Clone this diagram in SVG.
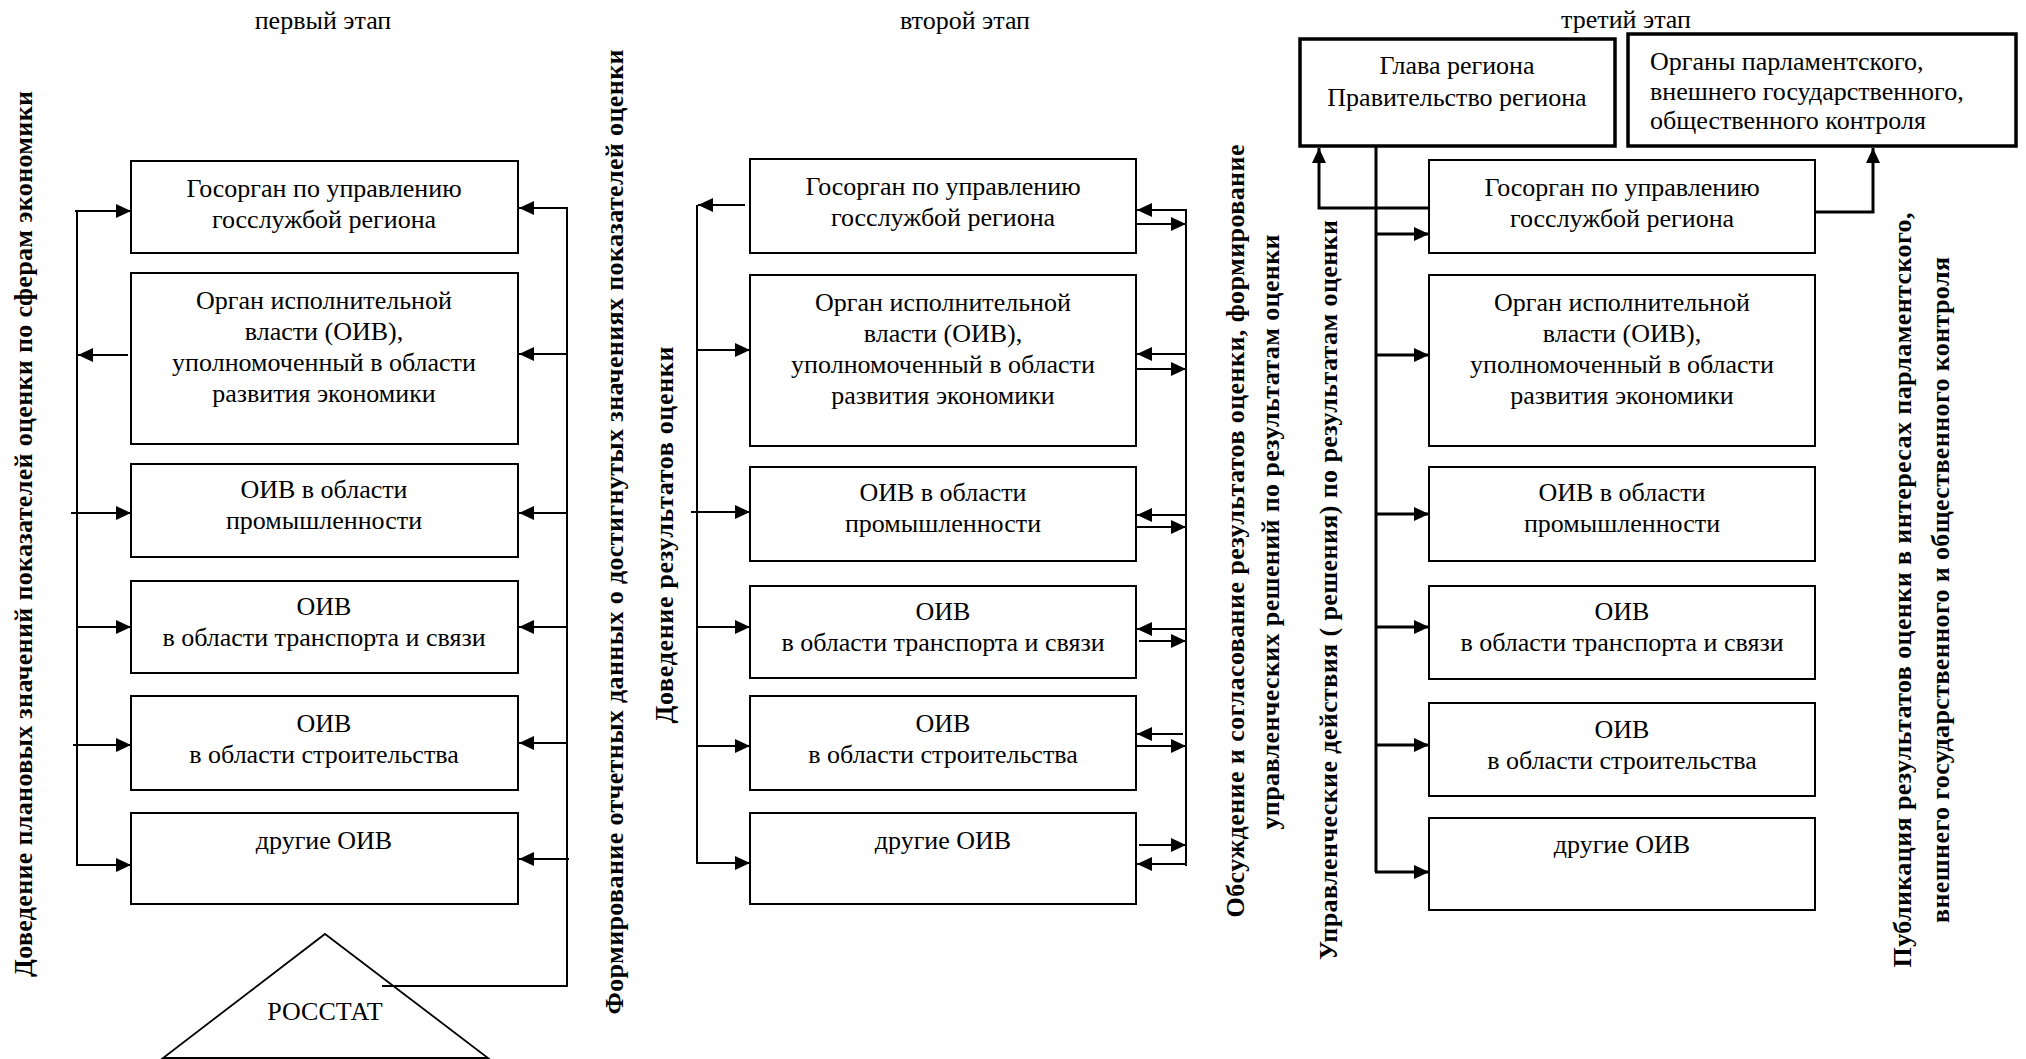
<svg xmlns="http://www.w3.org/2000/svg" width="2026" height="1059" viewBox="0 0 2026 1059">
<defs>
<style>
.t{font-family:"Liberation Serif","Times New Roman",serif;font-size:26px;fill:#000;text-anchor:middle}
.tl{font-family:"Liberation Serif","Times New Roman",serif;font-size:26px;fill:#000;text-anchor:start}
.v{font-family:"Liberation Serif","Times New Roman",serif;font-size:26px;font-weight:bold;fill:#000;text-anchor:middle}
.box{fill:#fff;stroke:#000;stroke-width:2}
.tbox{fill:#fff;stroke:#000;stroke-width:3.5}
.c{fill:none;stroke:#000;stroke-width:2}
.ct{fill:none;stroke:#000;stroke-width:3}
.a{fill:none;stroke:#000;stroke-width:2;marker-end:url(#ah)}
.at{fill:none;stroke:#000;stroke-width:3;marker-end:url(#ah)}
</style>
<marker id="ah" markerUnits="userSpaceOnUse" markerWidth="16" markerHeight="14" refX="15" refY="7" orient="auto">
<path d="M0,0 L15,7 L0,14 z" fill="#000"/>
</marker>
</defs>
<rect width="2026" height="1059" fill="#fff"/>

<!-- titles -->
<g id="titles">
<text class="t" x="323" y="29">первый этап</text>
<text class="t" x="965" y="29">второй этап</text>
<text class="t" x="1626" y="28">третий этап</text>
</g>

<!-- vertical labels -->
<g id="labels">
<text class="v" transform="translate(32,534) rotate(-90)" textLength="886" lengthAdjust="spacing">Доведение плановых значений показателей оценки по сферам экономики</text>
<text class="v" transform="translate(623,532) rotate(-90)" textLength="965" lengthAdjust="spacing">Формирование отчетных данных о достигнутых значениях показателей оценки</text>
<text class="v" transform="translate(673,535) rotate(-90)" textLength="377" lengthAdjust="spacing">Доведение результатов оценки</text>
<text class="v" transform="translate(1244,531) rotate(-90)" textLength="773" lengthAdjust="spacing">Обсуждение и согласование результатов оценки, формирование</text>
<text class="v" transform="translate(1279,532) rotate(-90)" textLength="595" lengthAdjust="spacing">управленческих решений по результатам оценки</text>
<text class="v" transform="translate(1337,590) rotate(-90)" textLength="740" lengthAdjust="spacing">Управленческие действия ( решения) по результатам оценки</text>
<text class="v" transform="translate(1911,590) rotate(-90)" textLength="755" lengthAdjust="spacing">Публикация результатов оценки в интересах парламентского,</text>
<text class="v" transform="translate(1949,590) rotate(-90)" textLength="666" lengthAdjust="spacing">внешнего государственного и общественного контроля</text>
</g>

<!-- connectors -->
<g id="connectors">
<!-- stage 1 left -->
<path class="c" d="M77,211 V866"/>
<path class="a" d="M75,211 H131"/>
<path class="a" d="M128,355 H78"/>
<path class="a" d="M71,513 H131"/>
<path class="a" d="M77,627 H131"/>
<path class="a" d="M73,745 H131"/>
<path class="a" d="M76,865 H131"/>
<!-- stage 1 right -->
<path class="c" d="M567,207 V987 M382,986 H568"/>
<path class="a" d="M567,208 H519"/>
<path class="a" d="M567,354 H519"/>
<path class="a" d="M567,513 H519"/>
<path class="a" d="M567,627 H519"/>
<path class="a" d="M567,743 H519"/>
<path class="a" d="M569,859 H519"/>
<!-- stage 2 left -->
<path class="c" d="M697,205 V864"/>
<path class="a" d="M745,205 H698"/>
<path class="a" d="M697,350 H750"/>
<path class="a" d="M691,512 H750"/>
<path class="a" d="M697,627 H750"/>
<path class="a" d="M697,746 H750"/>
<path class="a" d="M697,863 H750"/>
<!-- stage 2 right -->
<path class="c" d="M1186,209 V866"/>
<path class="a" d="M1186,210 H1137"/>
<path class="a" d="M1137,224 H1186"/>
<path class="a" d="M1186,354 H1137"/>
<path class="a" d="M1137,369 H1186"/>
<path class="a" d="M1186,515 H1137"/>
<path class="a" d="M1137,527 H1186"/>
<path class="a" d="M1186,629 H1137"/>
<path class="a" d="M1139,641 H1186"/>
<path class="a" d="M1183,734 H1137"/>
<path class="a" d="M1137,746 H1186"/>
<path class="a" d="M1139,845 H1186"/>
<path class="a" d="M1186,864 H1137"/>
<!-- stage 3 -->
<path class="at" d="M1429,208 H1319 V148"/>
<path class="at" d="M1815,212 H1873 V148"/>
<path class="ct" d="M1376,146 V872"/>
<path class="at" d="M1376,234 H1429"/>
<path class="at" d="M1376,355 H1429"/>
<path class="at" d="M1376,514 H1429"/>
<path class="at" d="M1376,627 H1429"/>
<path class="at" d="M1376,745 H1429"/>
<path class="at" d="M1375,872 H1429"/>
</g>

<!-- stage 1 nodes -->
<g id="s1-gosorgan"><rect class="box" x="131" y="161" width="387" height="92"/>
<text class="t" x="324" y="197">Госорган по управлению</text><text class="t" x="324" y="228">госслужбой региона</text></g>
<g id="s1-oiv-econ"><rect class="box" x="131" y="273" width="387" height="171"/>
<text class="t" x="324" y="309">Орган исполнительной</text><text class="t" x="324" y="340">власти (ОИВ),</text><text class="t" x="324" y="371">уполномоченный в области</text><text class="t" x="324" y="402">развития экономики</text></g>
<g id="s1-oiv-prom"><rect class="box" x="131" y="464" width="387" height="93"/>
<text class="t" x="324" y="498">ОИВ в области</text><text class="t" x="324" y="529">промышленности</text></g>
<g id="s1-oiv-trans"><rect class="box" x="131" y="581" width="387" height="92"/>
<text class="t" x="324" y="615">ОИВ</text><text class="t" x="324" y="646">в области транспорта и связи</text></g>
<g id="s1-oiv-stroy"><rect class="box" x="131" y="696" width="387" height="94"/>
<text class="t" x="324" y="732">ОИВ</text><text class="t" x="324" y="763">в области строительства</text></g>
<g id="s1-oiv-other"><rect class="box" x="131" y="813" width="387" height="91"/>
<text class="t" x="324" y="849">другие ОИВ</text></g>
<g id="s1-rosstat"><path d="M325,934 L488,1058 L163,1058 Z" fill="none" stroke="#000" stroke-width="1.8"/>
<text class="t" x="325" y="1020">РОССТАТ</text></g>

<!-- stage 2 nodes -->
<g id="s2-gosorgan"><rect class="box" x="750" y="159" width="386" height="94"/>
<text class="t" x="943" y="195">Госорган по управлению</text><text class="t" x="943" y="226">госслужбой региона</text></g>
<g id="s2-oiv-econ"><rect class="box" x="750" y="275" width="386" height="171"/>
<text class="t" x="943" y="311">Орган исполнительной</text><text class="t" x="943" y="342">власти (ОИВ),</text><text class="t" x="943" y="373">уполномоченный в области</text><text class="t" x="943" y="404">развития экономики</text></g>
<g id="s2-oiv-prom"><rect class="box" x="750" y="467" width="386" height="94"/>
<text class="t" x="943" y="501">ОИВ в области</text><text class="t" x="943" y="532">промышленности</text></g>
<g id="s2-oiv-trans"><rect class="box" x="750" y="586" width="386" height="92"/>
<text class="t" x="943" y="620">ОИВ</text><text class="t" x="943" y="651">в области транспорта и связи</text></g>
<g id="s2-oiv-stroy"><rect class="box" x="750" y="696" width="386" height="94"/>
<text class="t" x="943" y="732">ОИВ</text><text class="t" x="943" y="763">в области строительства</text></g>
<g id="s2-oiv-other"><rect class="box" x="750" y="813" width="386" height="91"/>
<text class="t" x="943" y="849">другие ОИВ</text></g>

<!-- stage 3 nodes -->
<g id="s3-glava"><rect class="tbox" x="1300" y="39" width="315" height="107"/>
<text class="t" x="1457" y="74">Глава региона</text><text class="t" x="1457" y="106">Правительство региона</text></g>
<g id="s3-control"><rect class="tbox" x="1628" y="34" width="388" height="112"/>
<text class="tl" x="1650" y="70">Органы парламентского,</text><text class="tl" x="1650" y="100">внешнего государственного,</text><text class="tl" x="1650" y="129">общественного контроля</text></g>
<g id="s3-gosorgan"><rect class="box" x="1429" y="160" width="386" height="93"/>
<text class="t" x="1622" y="196">Госорган по управлению</text><text class="t" x="1622" y="227">госслужбой региона</text></g>
<g id="s3-oiv-econ"><rect class="box" x="1429" y="275" width="386" height="171"/>
<text class="t" x="1622" y="311">Орган исполнительной</text><text class="t" x="1622" y="342">власти (ОИВ),</text><text class="t" x="1622" y="373">уполномоченный в области</text><text class="t" x="1622" y="404">развития экономики</text></g>
<g id="s3-oiv-prom"><rect class="box" x="1429" y="467" width="386" height="94"/>
<text class="t" x="1622" y="501">ОИВ в области</text><text class="t" x="1622" y="532">промышленности</text></g>
<g id="s3-oiv-trans"><rect class="box" x="1429" y="586" width="386" height="93"/>
<text class="t" x="1622" y="620">ОИВ</text><text class="t" x="1622" y="651">в области транспорта и связи</text></g>
<g id="s3-oiv-stroy"><rect class="box" x="1429" y="703" width="386" height="93"/>
<text class="t" x="1622" y="738">ОИВ</text><text class="t" x="1622" y="769">в области строительства</text></g>
<g id="s3-oiv-other"><rect class="box" x="1429" y="818" width="386" height="92"/>
<text class="t" x="1622" y="853">другие ОИВ</text></g>
</svg>
